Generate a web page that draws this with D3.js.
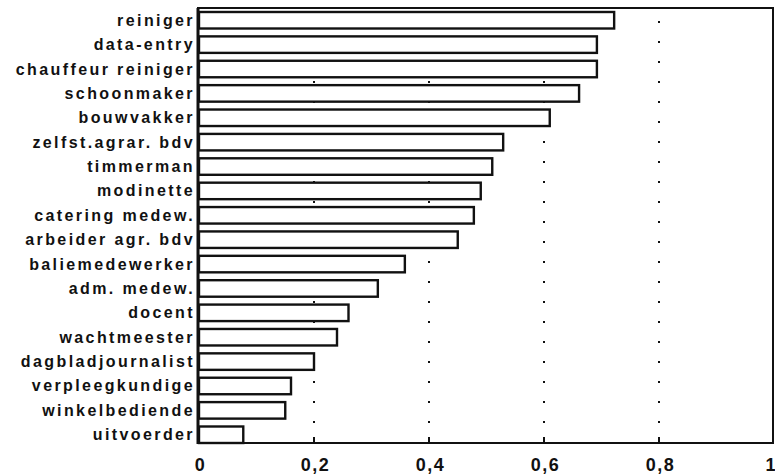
<!DOCTYPE html>
<html>
<head>
<meta charset="utf-8">
<script src="https://cdn.jsdelivr.net/npm/d3@7/dist/d3.min.js"></script>
<style>
  html, body { margin: 0; padding: 0; background: #fff; }
  svg { display: block; }
</style>
</head>
<body>
<svg id="chart" width="775" height="475"></svg>
<script>
const categories = [
  "reiniger", "data-entry", "chauffeur reiniger", "schoonmaker", "bouwvakker",
  "zelfst.agrar. bdv", "timmerman", "modinette", "catering medew.", "arbeider agr. bdv",
  "baliemedewerker", "adm. medew.", "docent", "wachtmeester", "dagbladjournalist",
  "verpleegkundige", "winkelbediende", "uitvoerder"
];
const values = [
  0.722, 0.692, 0.692, 0.661, 0.610,
  0.529, 0.510, 0.490, 0.478, 0.450,
  0.358, 0.311, 0.260, 0.240, 0.200,
  0.160, 0.150, 0.077
];
const tickValues = [0, 0.2, 0.4, 0.6, 0.8, 1];
const tickLabels = ["0", "0,2", "0,4", "0,6", "0,8", "1"];

const svg = d3.select("#chart");
const mLeft = 199, mRight = 774, mTop = 8, mBottom = 443;

const x = d3.scaleLinear().domain([0, 1]).range([mLeft, mRight]);
const y = d3.scaleBand().domain(categories).range([12, mBottom]).paddingInner(0.323).paddingOuter(0);

const font = "'Liberation Sans', Arial, Helvetica, sans-serif";

// dotted gridlines (drawn below bars)
svg.append("g").selectAll("line")
  .data(tickValues.filter(v => v > 0 && v < 1))
  .join("line")
  .attr("x1", d => x(d)).attr("x2", d => x(d))
  .attr("y1", mBottom).attr("y2", mTop)
  .attr("stroke", "#111").attr("stroke-width", 2)
  .attr("stroke-dasharray", "2,18");

// small tick marks on the bottom axis
svg.append("g").selectAll("line")
  .data(tickValues.filter(v => v > 0 && v < 1))
  .join("line")
  .attr("x1", d => x(d)).attr("x2", d => x(d))
  .attr("y1", mBottom).attr("y2", mBottom - 6)
  .attr("stroke", "#111").attr("stroke-width", 2);

// bars
svg.append("g").selectAll("rect")
  .data(categories)
  .join("rect")
  .attr("x", x(0))
  .attr("y", d => y(d))
  .attr("width", (d, i) => x(values[i]) - x(0))
  .attr("height", y.bandwidth())
  .attr("fill", "#fff")
  .attr("stroke", "#111")
  .attr("stroke-width", 2.4);

// frame
svg.append("rect")
  .attr("x", mLeft - 1).attr("y", mTop)
  .attr("width", 773 - (mLeft - 1)).attr("height", mBottom - mTop)
  .attr("fill", "none").attr("stroke", "#111").attr("stroke-width", 2);
svg.append("line")
  .attr("x1", mLeft - 1).attr("x2", mLeft - 1).attr("y1", mTop).attr("y2", mBottom + 1)
  .attr("stroke", "#111").attr("stroke-width", 3);

// category labels
svg.append("g").selectAll("text")
  .data(categories)
  .join("text")
  .attr("x", 195)
  .attr("y", d => y(d) + y.bandwidth() / 2 + 5.5)
  .attr("text-anchor", "end")
  .attr("font-family", font)
  .attr("font-weight", "bold")
  .attr("font-size", 16)
  .attr("letter-spacing", 2.4)
  .attr("fill", "#111")
  .text(d => d);

// x axis labels
const axis = d3.axisBottom(x)
  .tickValues(tickValues)
  .tickFormat((d, i) => tickLabels[i])
  .tickSize(0)
  .tickPadding(0);
const gAxis = svg.append("g").attr("transform", `translate(0,${mBottom})`).call(axis);
gAxis.select(".domain").remove();
gAxis.selectAll("text")
  .attr("y", 28)
  .attr("dy", 0)
  .attr("dx", 1)
  .attr("font-family", font)
  .attr("font-weight", "bold")
  .attr("font-size", 18)
  .attr("letter-spacing", 1.5)
  .attr("fill", "#111");
gAxis.selectAll(".tick").filter(d => d === 1).select("text")
  .attr("text-anchor", "end")
  .attr("letter-spacing", 0)
  .attr("dx", 1);
</script>
</body>
</html>
